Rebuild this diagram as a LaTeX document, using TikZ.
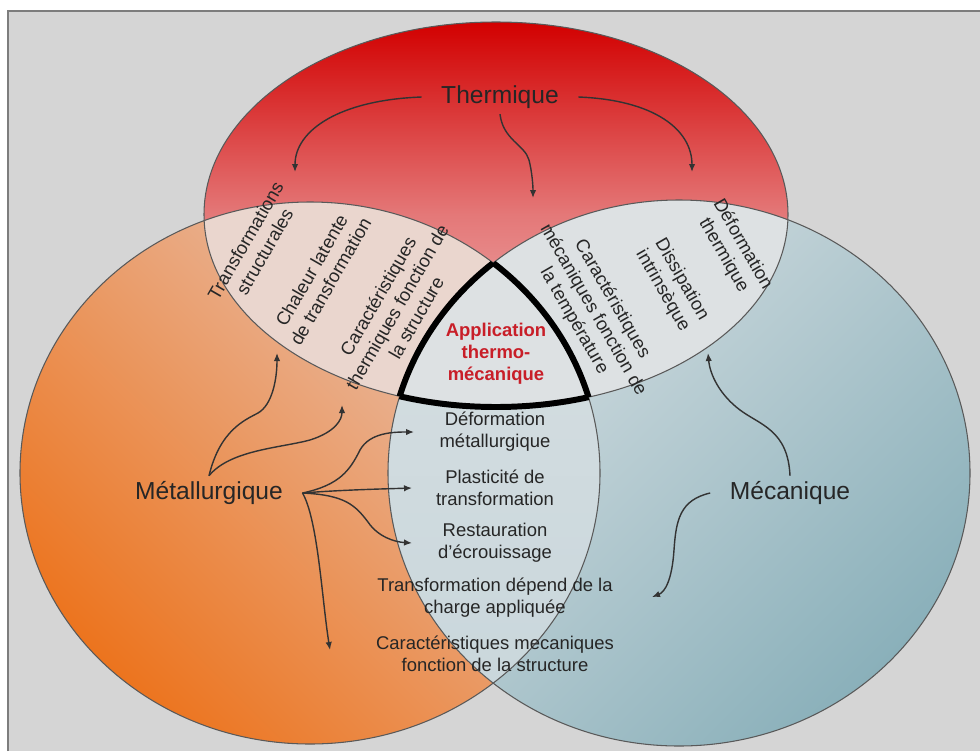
\documentclass[tikz,border=0pt]{standalone}
\usepackage{fontspec}
\setmainfont{Liberation Sans}
\usepackage{tikz}
\usepackage{xcolor}
\usetikzlibrary{arrows.meta, positioning}
\definecolor{cBack}{RGB}{213,213,213}
\definecolor{cFrame}{RGB}{125,125,125}
\definecolor{cRedTop}{RGB}{210,0,0}
\definecolor{cRedMid}{RGB}{228,120,120}
\definecolor{cRedBot}{RGB}{240,190,190}
\definecolor{cOrgLight}{RGB}{232,198,184}
\definecolor{cOrgDark}{RGB}{236,116,30}
\definecolor{cBlueLight}{RGB}{216,224,227}
\definecolor{cBlueDark}{RGB}{138,176,186}
\definecolor{cMixTop}{RGB}{215,223,226}
\definecolor{cMixBot}{RGB}{200,214,219}
\definecolor{cPinkPale}{RGB}{234,214,206}
\definecolor{cGreyPale}{RGB}{221,225,227}
\definecolor{cAppli}{RGB}{200,30,40}
\newcommand{\pathTherm}{(496,-214.5) ellipse [x radius=292, y radius=192.5]}
\newcommand{\pathMetal}{(310,-473) ellipse [x radius=290, y radius=271]}
\newcommand{\pathMeca}{(679,-473) ellipse [x radius=291, y radius=273]}
\tikzset{
	lbl/.style  ={font=\fontsize{14}{16}\selectfont, text=black!85, inner xsep=11pt, inner ysep=3pt},
	txt/.style  ={font=\fontsize{10.5}{12.5}\selectfont, text=black!85, align=center, inner sep=1pt},
	txtl/.style ={txt, rotate=60},
	txtr/.style ={txt, rotate=-60},
	appli/.style={font=\bfseries\fontsize{10.5}{12.5}\selectfont, text=cAppli, align=center, inner sep=1pt},
	rim/.style  ={draw=black!65, line width=0.6pt},
	core/.style ={draw=black, line width=3.4pt},
	lnk/.style  ={-{Latex[length=1.6mm,width=1.3mm]}, line width=0.8pt, draw=black!80},
}
\begin{document}
\begin{tikzpicture}[x=0.02cm, y=0.02cm]
	\useasboundingbox (0,0) rectangle (980,-751);
	\fill[white] (0,0) rectangle (980,-751);
	\fill[cBack] (8,-11) rectangle (980,-751);
	\draw[cFrame, line width=1pt] (8,-751) -- (8,-11) -- (980,-11);
	% the three domains
	\shade[top color=cOrgLight, bottom color=cOrgDark, shading angle=-45] \pathMetal;
	\shade[top color=cBlueLight, bottom color=cBlueDark, shading angle=45] \pathMeca;
	\shade[top color=cRedTop, bottom color=cRedBot, middle color=cRedMid] \pathTherm;
	% overlaps
	\begin{scope}
		\clip \pathMetal;
		\clip \pathMeca;
		\shade[top color=cMixTop, bottom color=cMixBot] (380,-200) rectangle (610,-751);
	\end{scope}
	\begin{scope}
		\clip \pathTherm;
		\fill[cPinkPale] \pathMetal;
		\fill[cGreyPale] \pathMeca;
	\end{scope}
	\draw[rim] \pathMetal;
	\draw[rim] \pathMeca;
	\draw[rim] \pathTherm;
	% bold outline of the common zone
	\begin{scope}
		\clip \pathMetal; \clip \pathMeca;
		\draw[core] \pathTherm;
	\end{scope}
	\begin{scope}
		\clip \pathTherm; \clip \pathMeca;
		\draw[core] \pathMetal;
	\end{scope}
	\begin{scope}
		\clip \pathTherm; \clip \pathMetal;
		\draw[core] \pathMeca;
	\end{scope}
	% labels
	\node[lbl] (therm) at (500,-97) {Thermique};
	\node[lbl] (metal) at (209,-493) {Métallurgique};
	\node[lbl] (meca) at (790,-493) {Mécanique};
	\node[appli] (appli) at (496,-354) {Application\\thermo-\\mécanique};
	\node[txtl] (transf) at (255,-246) {Transformations\\structurales};
	\node[txtl] (chaleur) at (321,-276) {Chaleur latente\\de transformation};
	\node[txtl] (carther) at (397,-307) {Caractéristiques\\thermiques fonction de\\la structure};
	\node[txtr] (carmec) at (593,-310) {Caractéristiques\\mécaniques fonction de\\la température};
	\node[txtr] (dissip) at (672,-285) {Dissipation\\intrinsèque};
	\node[txtr] (defther) at (733,-250) {Déformation\\thermique};
	\node[txt] (defmet) at (495,-432) {Déformation\\métallurgique};
	\node[txt] (plast) at (495,-488) {Plasticité de\\transformation};
	\node[txt] (resta) at (495,-543) {Restauration\\d'écrouissage};
	\node[txt] (charge) at (495,-598) {Transformation dépend de la\\charge appliquée};
	\node[txt] (carstr) at (495,-654) {Caractéristiques mecaniques\\fonction de la structure};
	% arrow ends
	\coordinate (tipThL) at (295,-172);
	\coordinate (tipThM) at (533,-198);
	\coordinate (tipThR) at (692,-172);
	\coordinate (tipMtA) at (277,-353);
	\coordinate (tipMtB) at (342,-405);
	\coordinate (tipMtC) at (414,-432);
	\coordinate (tipMtD) at (412,-488);
	\coordinate (tipMtE) at (412,-543);
	\coordinate (tipMtF) at (330,-650);
	\coordinate (tipMcA) at (708,-353);
	\coordinate (tipMcB) at (652,-597);
	% arrows
	\draw[lnk] (therm.west) .. controls (340,-100) and (295,-130) .. (tipThL);
	\draw[lnk] (therm.east) .. controls (655,-100) and (692,-130) .. (tipThR);
	\draw[lnk] (therm.south) .. controls (503,-140) and (525,-145) .. (529,-160) .. controls (532,-172) and (533,-185) .. (tipThM);
	\draw[lnk] (metal.north) .. controls (220,-430) and (245,-420) .. (258,-413) .. controls (272,-405) and (277,-380) .. (tipMtA);
	\draw[lnk] (metal.north) .. controls (230,-450) and (280,-448) .. (310,-440) .. controls (335,-432) and (342,-420) .. (tipMtB);
	\draw[lnk] (metal.east) .. controls (340,-485) and (350,-470) .. (360,-450) .. controls (370,-432) and (395,-432) .. (tipMtC);
	\draw[lnk] (metal.east) .. controls (340,-490) and (380,-489) .. (tipMtD);
	\draw[lnk] (metal.east) .. controls (345,-495) and (355,-505) .. (368,-522) .. controls (378,-537) and (395,-542) .. (tipMtE);
	\draw[lnk] (metal.east) .. controls (318,-520) and (322,-600) .. (tipMtF);
	\draw[lnk] (meca.north) .. controls (788,-430) and (760,-425) .. (740,-410) .. controls (720,-395) and (710,-375) .. (tipMcA);
	\draw[lnk] (meca.west) .. controls (680,-500) and (676,-520) .. (674,-550) .. controls (672,-580) and (665,-592) .. (tipMcB);
\end{tikzpicture}
\end{document}
